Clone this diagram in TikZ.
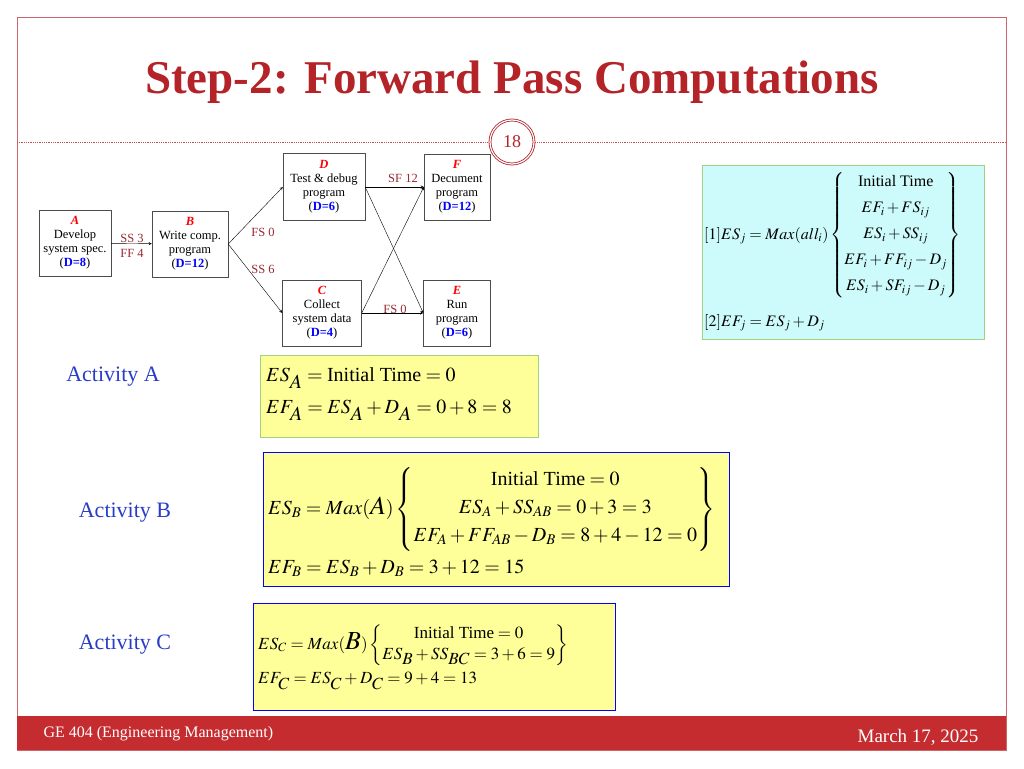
\documentclass[tikz,border=0pt]{standalone}
\usepackage{amsmath}
\usepackage{mathptmx}
\usepackage{fontspec}
\setmainfont{Liberation Serif}
\usetikzlibrary{arrows,positioning}
\definecolor{darkred}{RGB}{180,35,40}
\definecolor{barred}{RGB}{196,44,48}
\definecolor{lablred}{RGB}{150,40,50}
\definecolor{actblue}{RGB}{40,60,200}
\definecolor{cyanfill}{RGB}{205,250,250}
\definecolor{yelfill}{RGB}{255,255,153}
\definecolor{greenline}{RGB}{160,210,130}

\begin{document}
\begin{tikzpicture}[x=1pt,y=-1pt,>=stealth]
    \tikzstyle{act}=[rectangle,draw=black!70,thin,font=\fontsize{12.5}{14}\selectfont,
    inner sep=0pt,align=center,minimum width=72pt,minimum height=66pt]
    \tikzstyle{lbl}=[font=\fontsize{12.5}{14}\selectfont,text=lablred,inner sep=1pt]
    \tikzstyle{actname}=[font=\fontsize{22}{24}\selectfont,text=actblue]
    \tikzstyle{eqbox}=[fill=yelfill,inner sep=0pt]
    \newcommand{\nm}[1]{\textcolor{red}{\textbf{\textit{#1}}}}
    \newcommand{\dur}[1]{(\textcolor{blue}{\textbf{D=#1}})}
    \newcommand{\bigact}[1]{\text{\fontsize{26}{28}\selectfont$#1$}}

    \useasboundingbox (0,0) rectangle (1024,768);
    % slide frame
    \draw[darkred!70] (17,17) rectangle (1006,750);
    \fill[barred] (17,716) rectangle (1006,750);
    \node[text=darkred,font=\fontsize{47}{50}\selectfont\bfseries](title) at (512,82){Step-2: Forward Pass Computations};
    \draw[darkred!80,densely dotted,thick] (17,142) -- (1006,142);
    \node[circle,draw=darkred,double=white,double distance=1.2pt,fill=white,thick,
      minimum size=44pt,font=\fontsize{18}{20}\selectfont,text=darkred](pg) at (512,142){18};
    \node[text=white,font=\fontsize{16}{18}\selectfont,anchor=west](course) at (40,734){GE 404 (Engineering Management)};
    \node[text=white,font=\fontsize{19}{21}\selectfont,anchor=east](date) at (982,737){March 17, 2025};

    % network
    \node[act](A) at (75,243){\nm{A}\\Develop\\system spec.\\\dur{8}};
    \node[act,minimum width=76pt](B) at (190,244){\nm{B}\\Write comp.\\program\\\dur{12}};
    \node[act,minimum width=82pt,minimum height=67pt](D) at (324,187){\nm{D}\\Test \& debug\\program\\\dur{6}};
    \node[act,minimum width=66pt](F) at (457,187){\nm{F}\\Decument\\program\\\dur{12}};
    \node[act,minimum width=79pt](C) at (322,313){\nm{C}\\Collect\\system data\\\dur{4}};
    \node[act,minimum width=67pt](E) at (457,313){\nm{E}\\Run\\program\\\dur{6}};

    \draw[->] (A) -- (B);
    \draw[->] (B.east) -- (D.west);
    \draw[->] (B.east) -- (C.west);
    \draw[->] (D.east) -- (F.west);
    \draw[->] (D.east) -- (E.west);
    \draw[->] (C.east) -- (F.west);
    \draw[->] (C.east) -- (E.west);

    \node[lbl](ss3) at (132,238){SS 3};
    \node[lbl](ff4) at (132,253){FF 4};
    \node[lbl](fs0a) at (263,232){FS 0};
    \node[lbl](ss6) at (263,269){SS 6};
    \node[lbl](sf12) at (403,178){SF 12};
    \node[lbl](fs0b) at (395,309){FS 0};

    % general rule
    \node[fill=cyanfill,draw=greenline,minimum width=282pt,minimum height=174pt](rule) at (843,252){};
    \node[anchor=west,inner sep=0pt,font=\fontsize{16}{18}\selectfont](rule1) at (704,235){%
      $[1]ES_{j}=Max(all_{i})\left\{\begin{matrix}\text{Initial Time}\\[8pt]EF_{i}+FS_{ij}\\[8pt]ES_{i}+SS_{ij}\\[8pt]EF_{i}+FF_{ij}-D_{j}\\[8pt]ES_{i}+SF_{ij}-D_{j}\end{matrix}\right\}$};
    \node[anchor=west,inner sep=0pt,font=\fontsize{16}{18}\selectfont](rule2) at (704,323){$[2]EF_{j}=ES_{j}+D_{j}$};

    % activities
    \node[actname](actA) at (113,377){Activity A};
    \node[actname](actB) at (125,513){Activity B};
    \node[actname](actC) at (125,645){Activity C};

    \node[eqbox,draw=greenline,minimum width=278pt,minimum height=82pt](boxA) at (399,396){};
    \node[anchor=west,font=\fontsize{20}{22}\selectfont,align=left,inner sep=0pt](eqA) at (266,394){%
      $ES_{\textstyle A}=\text{Initial Time}=0$\\[10pt]
      $EF_{\textstyle A}=ES_{\textstyle A}+D_{\textstyle A}=0+8=8$};

    \node[eqbox,draw=blue,minimum width=466pt,minimum height=134pt](boxB) at (496,519){};
    \node[anchor=west,font=\fontsize{20}{22}\selectfont,align=left,inner sep=0pt](eqB) at (268,522){%
      $ES_{B}=Max(\bigact{A})\left\{\begin{matrix}\text{Initial Time}=0\\[6pt]ES_{A}+SS_{AB}=0+3=3\\[6pt]EF_{A}+FF_{AB}-D_{B}=8+4-12=0\end{matrix}\right\}$\\[8pt]
      $EF_{B}=ES_{B}+D_{B}=3+12=15$};

    \node[eqbox,draw=blue,minimum width=362pt,minimum height=107pt](boxC) at (434,657){};
    \node[anchor=west,font=\fontsize{17}{19}\selectfont,align=left,inner sep=0pt](eqC) at (258,657){%
      $ES_{C}=Max(\bigact{B})\left\{\begin{matrix}\text{Initial Time}=0\\[2pt]ES_{\textstyle B}+SS_{\textstyle BC}=3+6=9\end{matrix}\right\}$\\[6pt]
      $EF_{\textstyle C}=ES_{\textstyle C}+D_{\textstyle C}=9+4=13$};
\end{tikzpicture}
\end{document}
